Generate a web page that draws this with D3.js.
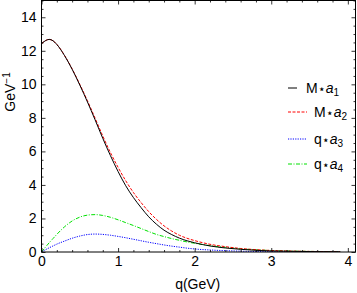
<!DOCTYPE html>
<html>
<head>
<meta charset="utf-8">
<script src="https://cdn.jsdelivr.net/npm/d3@7"></script>
<style>
body { margin: 0; background: #fff; }
svg { display: block; font-family: "Liberation Sans", Arial, sans-serif; }
</style>
</head>
<body>
<div id="chart"></div>
<script>
var qValues = [0, 0.05, 0.1, 0.15, 0.2, 0.3, 0.4, 0.5, 0.6, 0.7, 0.8, 0.9, 1.0, 1.1, 1.2, 1.3, 1.4, 1.5, 1.6, 1.7, 1.8, 1.9, 2.0, 2.2, 2.4, 2.6, 2.8, 3.0, 3.3, 3.6, 3.9];

var a1Values = [12.42, 12.6, 12.68, 12.6, 12.38, 11.72, 10.9, 9.96, 8.95, 7.88, 6.78, 5.75, 4.8, 3.95, 3.25, 2.65, 2.1, 1.66, 1.3, 1.04, 0.83, 0.67, 0.55, 0.36, 0.24, 0.16, 0.1, 0.06, 0.04, 0.02, 0.01];
var a2Values = [12.42, 12.6, 12.68, 12.6, 12.38, 11.73, 10.92, 10.0, 9.02, 7.98, 6.92, 5.93, 5.05, 4.25, 3.55, 2.95, 2.41, 1.95, 1.56, 1.25, 1.0, 0.82, 0.68, 0.46, 0.32, 0.21, 0.14, 0.09, 0.05, 0.03, 0.01];
var a3Values = [0, 0.13, 0.25, 0.36, 0.47, 0.65, 0.82, 0.95, 1.04, 1.07, 1.05, 1.0, 0.93, 0.85, 0.76, 0.67, 0.58, 0.5, 0.42, 0.35, 0.29, 0.23, 0.18, 0.12, 0.08, 0.05, 0.03, 0.02, 0.01, 0.005, 0];
var a4Values = [0, 0.28, 0.55, 0.8, 1.05, 1.5, 1.85, 2.08, 2.2, 2.23, 2.18, 2.07, 1.92, 1.75, 1.58, 1.4, 1.22, 1.05, 0.92, 0.8, 0.7, 0.6, 0.52, 0.38, 0.28, 0.19, 0.13, 0.09, 0.05, 0.03, 0.02];

var seriesNames = ["M", "M", "q", "q"];
var seriesSubs = ["1", "2", "3", "4"];
var seriesColors = ["#000000", "#ff0000", "#0000ff", "#00e000"];
var seriesDash = [null, "3,1.5", "1.2,1.2", "4,1.5,1,1.5"];

var xTicks = [0, 1, 2, 3, 4];
var yTicks = [0, 2, 4, 6, 8, 10, 12, 14];

var width = 357, height = 293;
var svg = d3.select("#chart").append("svg")
    .attr("width", width)
    .attr("height", height);

var x = d3.scaleLinear().domain([0, 4.1]).range([41.5, 355.5]);
var y = d3.scaleLinear().domain([0, 15]).range([252, 0.5]);

var allSeries = [a1Values, a2Values, a3Values, a4Values];

// clip so curves stay inside the frame
svg.append("clipPath").attr("id", "clip")
    .append("rect")
    .attr("x", x(0)).attr("y", y(15))
    .attr("width", x(4.1) - x(0)).attr("height", y(0) - y(15));

var line = d3.line()
    .x(function (d) { return x(d[0]); })
    .y(function (d) { return y(d[1]); })
    .curve(d3.curveMonotoneX);

// draw order: green, blue, red, black on top
[3, 2, 1, 0].forEach(function (i) {
    var pts = qValues.map(function (q, j) { return [q, allSeries[i][j]]; });
    svg.append("path")
        .attr("clip-path", "url(#clip)")
        .attr("d", line(pts))
        .attr("fill", "none")
        .attr("stroke", seriesColors[i])
        .attr("stroke-width", 1)
        .attr("stroke-dasharray", seriesDash[i]);
});

// minor tick values
var xMinor = d3.range(0, 4.1, 0.2).filter(function (v) { return Math.abs(v - Math.round(v)) > 1e-6; });
var yMinor = d3.range(0, 15.01, 0.5).filter(function (v) { return Math.abs(v / 2 - Math.round(v / 2)) > 1e-6; });

function styleAxis(g) {
    g.select(".domain").remove();
    g.selectAll("line").attr("stroke", "#000").attr("stroke-width", 0.8);
    g.selectAll("text").attr("fill", "#000").style("font-size", "14px");
}

// bottom
svg.append("g").attr("transform", "translate(0," + y(0) + ")")
    .call(d3.axisBottom(x).tickValues(xTicks).tickSizeInner(-4).tickSizeOuter(0).tickPadding(4).tickFormat(d3.format("d")))
    .call(styleAxis);
svg.append("g").attr("transform", "translate(0," + y(0) + ")")
    .call(d3.axisBottom(x).tickValues(xMinor).tickSizeInner(-2).tickSizeOuter(0).tickFormat(""))
    .call(styleAxis);
// top
svg.append("g").attr("transform", "translate(0," + y(15) + ")")
    .call(d3.axisTop(x).tickValues(xTicks).tickSizeInner(-4).tickSizeOuter(0).tickFormat(""))
    .call(styleAxis);
svg.append("g").attr("transform", "translate(0," + y(15) + ")")
    .call(d3.axisTop(x).tickValues(xMinor).tickSizeInner(-2).tickSizeOuter(0).tickFormat(""))
    .call(styleAxis);
// left
svg.append("g").attr("transform", "translate(" + x(0) + ",0)")
    .call(d3.axisLeft(y).tickValues(yTicks).tickSizeInner(-4).tickSizeOuter(0).tickPadding(5).tickFormat(d3.format("d")))
    .call(styleAxis);
svg.append("g").attr("transform", "translate(" + x(0) + ",0)")
    .call(d3.axisLeft(y).tickValues(yMinor).tickSizeInner(-2).tickSizeOuter(0).tickFormat(""))
    .call(styleAxis);
// right
svg.append("g").attr("transform", "translate(" + x(4.1) + ",0)")
    .call(d3.axisRight(y).tickValues(yTicks).tickSizeInner(-4).tickSizeOuter(0).tickFormat(""))
    .call(styleAxis);
svg.append("g").attr("transform", "translate(" + x(4.1) + ",0)")
    .call(d3.axisRight(y).tickValues(yMinor).tickSizeInner(-2).tickSizeOuter(0).tickFormat(""))
    .call(styleAxis);

// frame
svg.append("rect")
    .attr("x", x(0)).attr("y", y(15))
    .attr("width", x(4.1) - x(0)).attr("height", y(0) - y(15))
    .attr("fill", "none").attr("stroke", "#000").attr("stroke-width", 1);

// axis labels
svg.append("text")
    .attr("x", x(2.04)).attr("y", 289)
    .attr("text-anchor", "middle")
    .style("font-size", "14px")
    .text("q(GeV)");

var yl = svg.append("text")
    .attr("transform", "translate(15,92) rotate(-90)")
    .attr("text-anchor", "middle")
    .style("font-size", "14px");
yl.append("tspan").text("GeV");
yl.append("tspan").attr("dy", -5).style("font-size", "10px").text("\u22121");

// legend
var legendY = [88, 112, 139, 164];
var legend = svg.append("g");
seriesNames.forEach(function (name, i) {
    legend.append("line")
        .attr("x1", 288).attr("x2", i === 0 ? 297 : 307)
        .attr("y1", legendY[i]).attr("y2", legendY[i])
        .attr("stroke", seriesColors[i])
        .attr("stroke-width", 1)
        .attr("stroke-dasharray", seriesDash[i]);
    var t = legend.append("text")
        .attr("x", i === 0 ? 306 : 314)
        .attr("y", legendY[i] + 5)
        .style("font-size", "14px");
    t.append("tspan").text(name);
    t.append("tspan").style("font-size", "12px").text("\u22C6");
    t.append("tspan").style("font-style", "italic").text("a");
    t.append("tspan").attr("dy", 3).style("font-size", "10px").text(seriesSubs[i]);
});
</script>
</body>
</html>
